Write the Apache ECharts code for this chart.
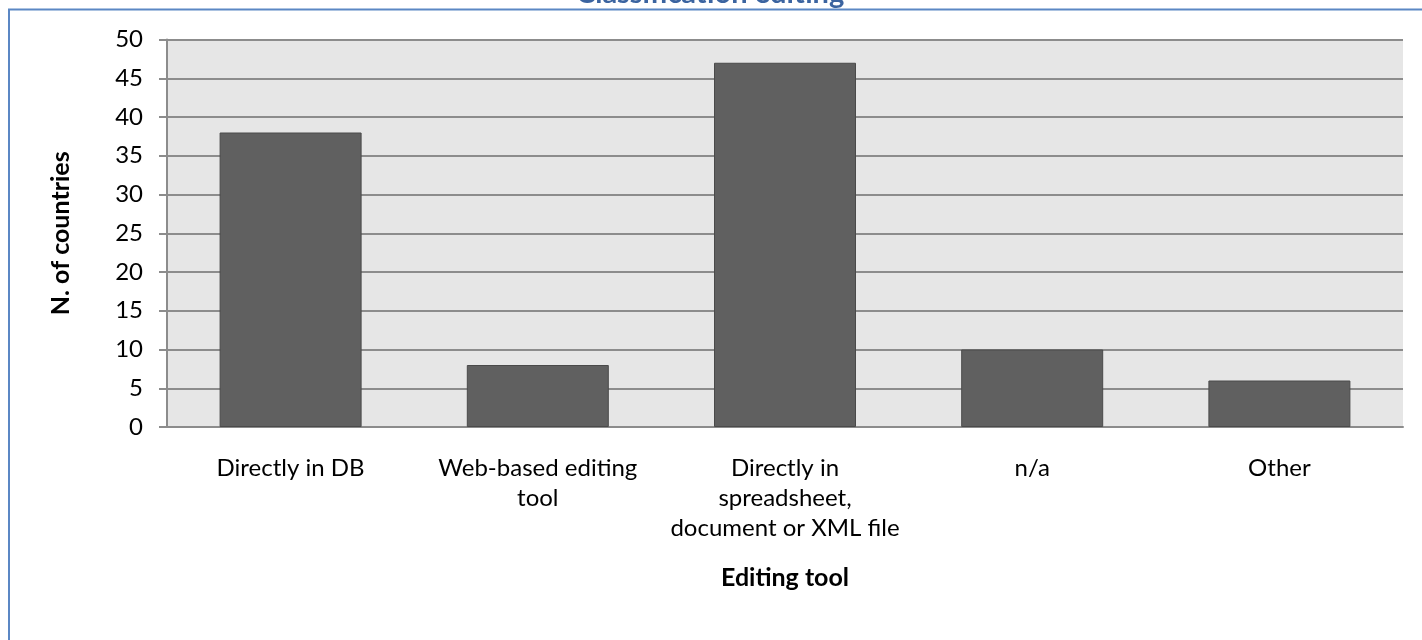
<!DOCTYPE html>
<html>
<head>
<meta charset="utf-8">
<script src="https://cdn.jsdelivr.net/npm/echarts@6/dist/echarts.min.js"></script>
<style>
  html, body { margin: 0; padding: 0; background: #ffffff; }
  #chart { width: 1422px; height: 640px; }
</style>
</head>
<body>
<div id="chart"></div>
<script>
// Editing tools used for classification maintenance
const categories = [
  'Directly in DB',
  'Web-based editing\ntool',
  'Directly in\nspreadsheet,\ndocument or XML file',
  'n/a',
  'Other'
];
const countries = [38, 8, 47, 10, 6];
const yTicks = { min: 0, max: 50, interval: 5 };

const FONT = 'Lato, "Open Sans", sans-serif';

const chart = echarts.init(document.getElementById('chart'), null, { renderer: 'canvas' });

chart.setOption({
  backgroundColor: '#ffffff',
  animation: false,
  title: {
    text: 'Classification editing',
    left: 571,
    top: -26,
    textStyle: { fontFamily: FONT, fontSize: 29, fontWeight: 'bold', color: '#3b64a0' }
  },
  graphic: [
    {
      type: 'rect',
      shape: { x: 9, y: 9.5, width: 1500, height: 800 },
      style: { fill: 'none', stroke: '#5b87c4', lineWidth: 2 },
      z: 100
    }
  ],
  grid: {
    left: 167,
    right: 19,
    top: 39.5,
    bottom: 213,
    show: true,
    backgroundColor: '#e6e6e6',
    borderWidth: 0
  },
  xAxis: {
    type: 'category',
    data: categories,
    name: 'Editing tool',
    nameLocation: 'middle',
    nameGap: 138,
    nameTextStyle: { fontFamily: FONT, fontSize: 25, fontWeight: 'bold', color: '#000' },
    axisLine: { show: true, lineStyle: { color: '#8c8c8c', width: 2 } },
    axisTick: { show: false },
    axisLabel: {
      fontFamily: FONT, fontSize: 24, color: '#000',
      margin: 26, lineHeight: 30, interval: 0
    }
  },
  yAxis: {
    type: 'value',
    min: yTicks.min,
    max: yTicks.max,
    interval: yTicks.interval,
    name: 'N. of countries',
    nameLocation: 'middle',
    nameGap: 94,
    nameRotate: 90,
    nameTextStyle: { fontFamily: FONT, fontSize: 25, fontWeight: 'bold', color: '#000' },
    axisLine: { show: true, lineStyle: { color: '#8c8c8c', width: 2 } },
    axisTick: { show: true, length: 8, lineStyle: { color: '#8c8c8c', width: 2 } },
    axisLabel: { fontFamily: FONT, fontSize: 24, color: '#000', margin: 24 },
    splitLine: { show: true, lineStyle: { color: '#8c8c8c', width: 2 } }
  },
  series: [
    {
      type: 'bar',
      data: countries,
      barWidth: 142,
      itemStyle: { color: '#606060', borderColor: '#4a4a4a', borderWidth: 1 }
    }
  ]
});
</script>
</body>
</html>
